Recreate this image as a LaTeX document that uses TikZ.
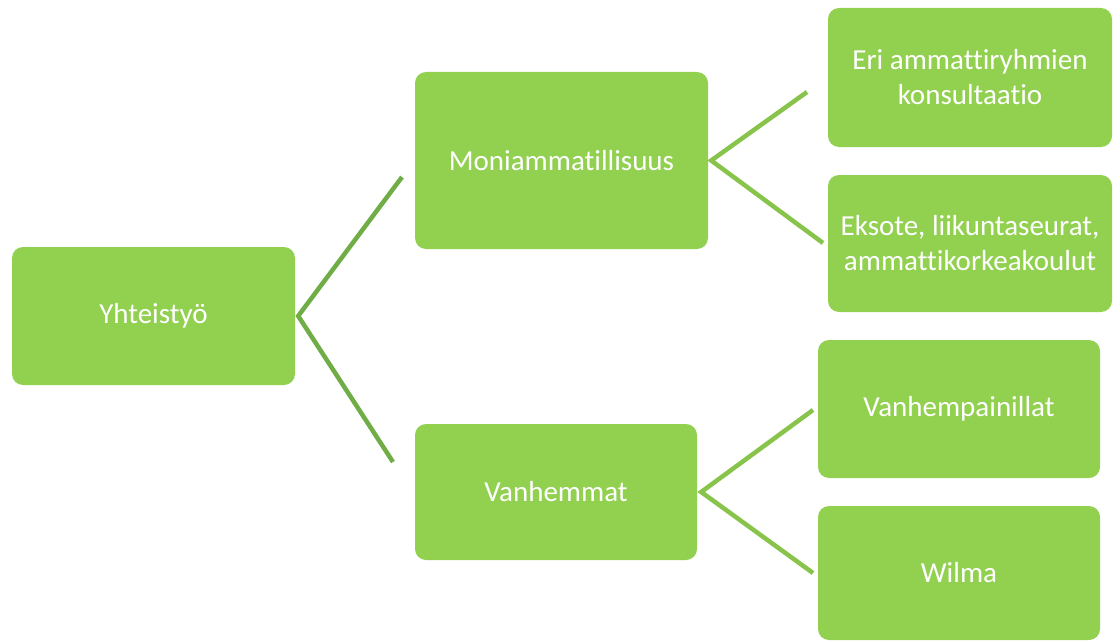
\documentclass[tikz,border=0pt]{standalone}
\usepackage{fontspec}
\setmainfont{Carlito}[RawFeature={-liga}]
\definecolor{boxgreen}{HTML}{92D050}
\definecolor{lineA}{HTML}{70AD47}
\definecolor{lineB}{HTML}{88C44B}
\begin{document}
\begin{tikzpicture}[x=1pt,y=-1pt,
  box/.style={fill=boxgreen, draw=none, rounded corners=11pt, text=white,
    font=\fontsize{29}{35}\selectfont, align=center, inner sep=0pt},
  linkA/.style={draw=lineA, line width=4.5pt},
  linkB/.style={draw=lineB, line width=4.5pt}]
\useasboundingbox (0,0) rectangle (1120,642);
\node[box, minimum width=283pt, minimum height=138pt] (Y) at (153.5,316) {Yhteistyö};
\node[box, minimum width=293pt, minimum height=177pt] (M) at (561.5,160.5) {Moniammatillisuus};
\node[box, minimum width=282pt, minimum height=136pt] (V) at (556,492) {Vanhemmat};
\node[box, minimum width=284pt, minimum height=139pt] (E1) at (970,77.5) {Eri ammattiryhmien\\konsultaatio};
\node[box, minimum width=284pt, minimum height=137pt] (E2) at (970,243.5) {Eksote, liikuntaseurat,\\ammattikorkeakoulut};
\node[box, minimum width=282pt, minimum height=138pt] (VI) at (959,409) {Vanhempainillat};
\node[box, minimum width=282pt, minimum height=134pt] (W) at (959,573) {Wilma};
% free ends of the connectors
\coordinate (y1) at (402,177);
\coordinate (y2) at (393,462);
\coordinate (m1) at (807,92);
\coordinate (m2) at (823,243);
\coordinate (v1) at (813,410);
\coordinate (v2) at (813,573);
\draw[linkA] (y1) -- ([xshift=3pt]Y.east) -- (y2);
\draw[linkB] (m1) -- ([xshift=3pt]M.east) -- (m2);
\draw[linkB] (v1) -- ([xshift=4pt]V.east) -- (v2);
\end{tikzpicture}
\end{document}
